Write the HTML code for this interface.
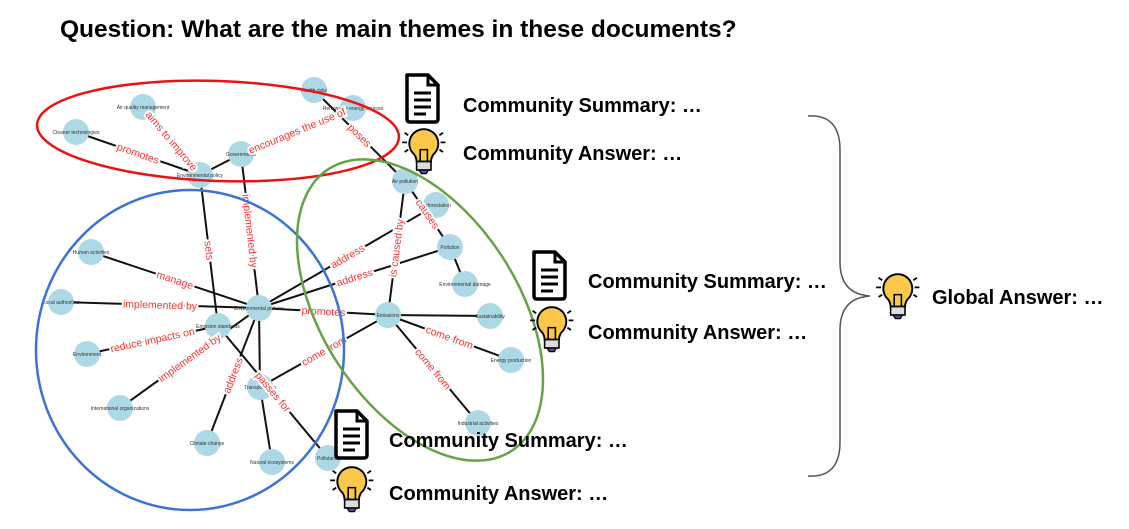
<!DOCTYPE html>
<html><head><meta charset="utf-8"><style>
html,body{margin:0;padding:0;background:#fff;}
svg{display:block;font-family:"Liberation Sans",sans-serif;}
.t{font-weight:bold;font-size:20px;fill:#000;}
.nl{font-size:5px;fill:#333;text-anchor:middle;}
.el{font-size:10.5px;fill:#ff3030;text-anchor:middle;paint-order:stroke;stroke:#fff;stroke-width:4px;}
</style></head><body>
<svg id="s" width="1129" height="529" viewBox="0 0 1129 529">
<defs>
<g id="doc"><path d="M3,2 H24 L34,12 V46 Q34,49 31,49 H6 Q3,49 3,46 Z" fill="#fff" stroke="#000" stroke-width="3.5" stroke-linejoin="round"/><path d="M24,2 V12 H34" fill="none" stroke="#000" stroke-width="3"/><path d="M10,20H27M10,27H27M10,34H27M10,41H22" stroke="#000" stroke-width="3"/></g>
<g id="bulb"><path d="M5,12H1M6,6L3,4M6,18L3,20M33,12H37M32,6L35,4M32,18L35,20" stroke="#000" stroke-width="1.5"/><path d="M19,1 A12,12 0 0 1 27,22 Q25,25 25,28 H13 Q13,25 11,22 A12,12 0 0 1 19,1Z" fill="#fbc84a" stroke="#000" stroke-width="1.6"/><path d="M16,28V18H22V28" fill="none" stroke="#000" stroke-width="1.3"/><rect x="13" y="28" width="12" height="7" fill="#ddd" stroke="#000" stroke-width="1.3"/><path d="M15,35H23L21,38H17Z" fill="#5a4a9a" stroke="#000" stroke-width="1"/></g>
</defs>
<text x="60" y="37" font-size="24.5" font-weight="bold">Question: What are the main themes in these documents?</text>
<g id="edges"></g><g id="nodes"></g><g id="nlabels"></g><g id="labels"></g>
<ellipse cx="218" cy="131" rx="181" ry="50" transform="rotate(2 218 131)" fill="none" stroke="#ee1111" stroke-width="2.5"/>
<ellipse cx="190" cy="350" rx="154" ry="160" fill="none" stroke="#3a72d8" stroke-width="2.5"/>
<ellipse cx="420" cy="310" rx="98" ry="168" transform="rotate(-33 420 310)" fill="none" stroke="#66a343" stroke-width="2.5"/>
<use href="#doc" x="404" y="73"/>
<use href="#bulb" transform="translate(401,128) scale(1.2)"/>
<text class="t" x="463" y="112">Community Summary: …</text>
<text class="t" x="463" y="160">Community Answer: …</text>
<use href="#doc" x="531" y="250"/>
<use href="#bulb" transform="translate(529,306) scale(1.2)"/>
<text class="t" x="588" y="288">Community Summary: …</text>
<text class="t" x="588" y="339">Community Answer: …</text>
<use href="#doc" x="333" y="409"/>
<use href="#bulb" transform="translate(329,466) scale(1.2)"/>
<text class="t" x="389" y="447">Community Summary: …</text>
<text class="t" x="389" y="500">Community Answer: …</text>
<path d="M808,116 Q840,114 840,150 V262 Q840,294 870,296 Q840,298 840,330 V442 Q840,478 808,476" fill="none" stroke="#555" stroke-width="1.5"/>
<use href="#bulb" transform="translate(875,273) scale(1.2)"/>
<text class="t" x="932" y="304">Global Answer: …</text>
</svg>
<script>
const nodeNames=["Air quality management","Cleaner technologies","Environmental policy","Governments","Health risks","Renewable energy sources","Air pollution","Deforestation","Pollution","Environmental damage","Emissions","Sustainability","Energy production","Industrial activities","Environmental policies","Emission standards","Human activities","Local authorities","Environment","International organizations","Climate change","Transportation","Natural ecosystems","Pollutants"];
const nodeX=[143,76,200,241,314,353,405,436,450,465,388,490,511,478,259,218,91,61,87,120,207,260,272,328];
const nodeY=[107,132,175,154,90,108,181,205,247,284,315,316,360,423,308,326,252,302,354,408,443,387,462,458];
const edgeFrom=[1,0,2,3,4,2,3,6,6,8,14,14,14,10,10,10,10,16,17,18,19,20,14,21,15];
const edgeTo=[2,2,3,5,6,15,14,10,8,9,7,8,10,11,21,12,13,14,14,15,14,14,21,22,23];
const edgeLabels=["promotes","aims to improve","","encourages the use of","poses","sets","implemented by","is caused by","causes","","address","address","promotes","","come from","come from","come from","manage","implemented by","reduce impacts on","implemented by","address","","","passes for"];
const NS="http://www.w3.org/2000/svg";
const E=document.getElementById('edges'),N=document.getElementById('nodes'),NL=document.getElementById('nlabels'),L=document.getElementById('labels');
edgeFrom.forEach((f,i)=>{
  const t=edgeTo[i];
  const ln=document.createElementNS(NS,'line');
  
  
  ln.setAttribute('x1',nodeX[f]);ln.setAttribute('y1',nodeY[f]);ln.setAttribute('x2',nodeX[t]);ln.setAttribute('y2',nodeY[t]);
  ln.setAttribute('stroke','#111');ln.setAttribute('stroke-width','2');
  E.appendChild(ln);
  if(edgeLabels[i]){
    const mx=(nodeX[f]+nodeX[t])/2,my=(nodeY[f]+nodeY[t])/2;
    let a=Math.atan2(nodeY[t]-nodeY[f],nodeX[t]-nodeX[f])*180/Math.PI;
    if(a>90)a-=180;if(a<-90)a+=180;
    const tx=document.createElementNS(NS,'text');
    
    
    tx.setAttribute('class','el');
    tx.setAttribute('transform','translate('+mx+','+(my)+') rotate('+a+') translate(0,3.5)');
    tx.textContent=edgeLabels[i];
    L.appendChild(tx);
  }
});
nodeNames.forEach((n,i)=>{
  const c=document.createElementNS(NS,'circle');
  
  
  c.setAttribute('cx',nodeX[i]);c.setAttribute('cy',nodeY[i]);c.setAttribute('r',13);c.setAttribute('fill','#add8e6');
  N.appendChild(c);
  const tx=document.createElementNS(NS,'text');
  
  
  tx.setAttribute('class','nl');tx.setAttribute('x',nodeX[i]);tx.setAttribute('y',nodeY[i]+2);
  tx.textContent=n;
  NL.appendChild(tx);
});
</script>
</body></html>
